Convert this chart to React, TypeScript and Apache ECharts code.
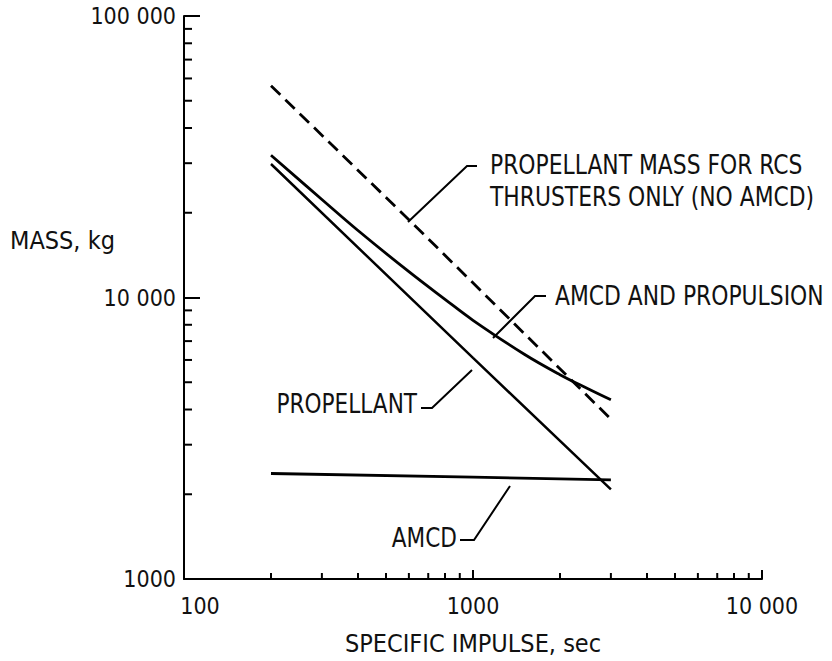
import { useEffect, useRef } from "react";
import * as echarts from "echarts";

// ---- data ----
const rcsOnlyIsp = [200, 600, 3000];
const rcsOnlyMass = [56500, 18900, 3700];

const totalIsp = [200, 300, 400, 600, 800, 1000, 1500, 2000, 2500, 3000];
const totalMass = [32000, 22300, 17300, 12350, 9850, 8300, 6300, 5320, 4740, 4330];

const propIsp = [200, 1000, 3000];
const propMass = [29800, 6100, 2080];

const amcdIsp = [200, 1000, 3000];
const amcdMass = [2370, 2300, 2250];

const xTickValues = [100, 1000, 10000];
const xTickLabels = ["100", "1000", "10 000"];
const yTickValues = [1000, 10000, 100000];
const yTickLabels = ["1000", "10 000", "100 000"];
const xMinorTicks = [200, 300, 400, 500, 600, 700, 800, 900, 2000, 3000, 4000, 5000, 6000, 7000, 8000, 9000];
const yMinorTicks = [2000, 3000, 4000, 5000, 6000, 7000, 8000, 9000, 20000, 30000, 40000, 50000, 60000, 70000, 80000, 90000];

const FONT = "'DejaVu Sans Condensed', 'DejaVu Sans', sans-serif";

const pairs = (xs: number[], ys: number[]) => xs.map((x, i) => [x, ys[i]]);

export default function App() {
  const ref = useRef<HTMLDivElement>(null);
  useEffect(() => {
    if (!ref.current) return;
    const chart = echarts.init(ref.current, undefined, { renderer: "svg" });
    const lineBase = { type: "line", symbol: "none", showSymbol: false, z: 3 };
    chart.setOption({
      animation: false,
      backgroundColor: "#ffffff",
      grid: { left: 184, right: 70, top: 16, bottom: 75 },
      xAxis: {
        type: "log",
        logBase: 10,
        min: 100,
        max: 10000,
        name: "SPECIFIC IMPULSE, sec",
        nameLocation: "middle",
        nameGap: 52,
        nameTextStyle: { fontFamily: FONT, fontSize: 25, color: "#111" },
        axisLine: { show: true, lineStyle: { color: "#000", width: 2 } },
        axisTick: { show: true, inside: true, length: 9, lineStyle: { color: "#000", width: 2 } },
        splitLine: { show: false },
        axisLabel: {
          margin: 15,
          fontFamily: FONT,
          fontSize: 23,
          color: "#111",
          formatter: (v: number) => {
            const i = xTickValues.findIndex((t) => Math.abs(t - v) / t < 1e-6);
            if (i < 0) return "";
            if (i === 0) return "{a|" + xTickLabels[i] + "}";
            return xTickLabels[i];
          },
          rich: { a: { fontFamily: FONT, fontSize: 23, color: "#111", padding: [0, 0, 0, 32] } },
        },
      },
      yAxis: {
        type: "log",
        logBase: 10,
        min: 1000,
        max: 100000,
        axisLine: { show: true, lineStyle: { color: "#000", width: 2 } },
        axisTick: { show: true, inside: true, length: 16, lineStyle: { color: "#000", width: 2 } },
        splitLine: { show: false },
        axisLabel: {
          margin: 8,
          fontFamily: FONT,
          fontSize: 23,
          color: "#111",
          formatter: (v: number) => {
            const i = yTickValues.findIndex((t) => Math.abs(t - v) / t < 1e-6);
            return i < 0 ? "" : yTickLabels[i];
          },
        },
      },
      series: [
        {
          ...lineBase,
          name: "PROPELLANT MASS FOR RCS THRUSTERS ONLY (NO AMCD)",
          data: pairs(rcsOnlyIsp, rcsOnlyMass),
          lineStyle: { color: "#000", width: 2.8, type: [13, 7] },
        },
        {
          ...lineBase,
          name: "AMCD AND PROPULSION",
          smooth: 0.4,
          data: pairs(totalIsp, totalMass),
          lineStyle: { color: "#000", width: 2.8 },
        },
        {
          ...lineBase,
          name: "PROPELLANT",
          data: pairs(propIsp, propMass),
          lineStyle: { color: "#000", width: 2.5 },
        },
        {
          ...lineBase,
          name: "AMCD",
          data: pairs(amcdIsp, amcdMass),
          lineStyle: { color: "#000", width: 2.8 },
        },
      ],
    });

    const toPx = (x: number, y: number) => chart.convertToPixel({ gridIndex: 0 }, [x, y]) as number[];
    const elements: any[] = [];
    const stroke = { stroke: "#000", lineWidth: 2 };
    xMinorTicks.forEach((v) => {
      const [px, py] = toPx(v, 1000);
      elements.push({ type: "line", shape: { x1: px, y1: py, x2: px, y2: py - 6 }, style: stroke });
    });
    yMinorTicks.forEach((v) => {
      const [px, py] = toPx(100, v);
      elements.push({ type: "line", shape: { x1: px, y1: py, x2: px + 8, y2: py }, style: stroke });
    });
    const txt = (text: string, x: number, y: number, align: string, size: number, sx: number) => ({
      type: "text",
      x,
      y,
      scaleX: sx,
      style: { text, fill: "#111", font: `${size}px ${FONT}`, textAlign: align, textVerticalAlign: "middle" },
    });
    const poly = (points: number[][]) => ({
      type: "polyline",
      shape: { points },
      style: { stroke: "#000", lineWidth: 2, fill: null },
    });
    // y axis title
    elements.push(txt("MASS, kg", 10, 240, "left", 25, 1));
    // dashed-line annotation
    elements.push(poly([[408, 222], [467, 166], [477, 166]]));
    elements.push(txt("PROPELLANT MASS FOR RCS", 490, 165, "left", 27, 0.9));
    elements.push(txt("THRUSTERS ONLY (NO AMCD)", 490, 197, "left", 27, 0.9));
    // AMCD and propulsion annotation
    elements.push(poly([[493, 338], [535, 296], [546, 296]]));
    elements.push(txt("AMCD AND PROPULSION", 555, 296, "left", 27, 0.9));
    // propellant annotation
    elements.push(txt("PROPELLANT", 417, 403, "right", 27, 0.89));
    elements.push(poly([[421, 408], [432, 408], [472, 370]]));
    // AMCD annotation
    elements.push(txt("AMCD", 457, 537, "right", 27, 0.89));
    elements.push(poly([[460, 540], [474, 540], [510, 486]]));

    chart.setOption({ graphic: { elements } });
    return () => chart.dispose();
  }, []);
  return (
    <div
      ref={ref}
      style={{ position: "fixed", left: 0, top: 0, width: 832, height: 661, background: "#fff" }}
    />
  );
}
